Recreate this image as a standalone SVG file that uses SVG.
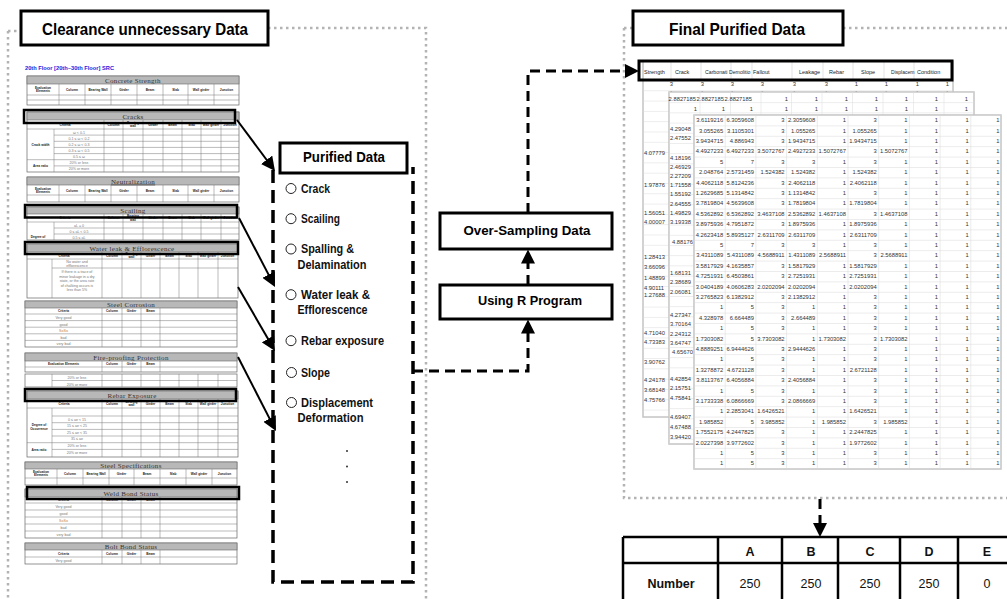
<svg xmlns="http://www.w3.org/2000/svg" width="1007" height="599" viewBox="0 0 1007 599">
<defs>
<style>
.dot{fill:none;stroke:#b3b3b3;stroke-width:2.5;stroke-dasharray:2.5 3.5}
.dash{fill:none;stroke:#000;stroke-width:3.5;stroke-dasharray:13 7}
.conn{fill:none;stroke:#000;stroke-width:3;stroke-dasharray:10 6}
.sol{fill:none;stroke:#000;stroke-width:2}
.box{fill:#fff;stroke:#000;stroke-width:3}
.t{font-family:"Liberation Sans",Arial,sans-serif;font-weight:bold;fill:#000}
.tm{text-anchor:middle}
.item{font-family:"Liberation Sans",Arial,sans-serif;font-weight:bold;font-size:12px;fill:#111}
.cir{fill:#fff;stroke:#222;stroke-width:1}
.blue{font-family:"Liberation Sans",Arial,sans-serif;font-weight:bold;font-size:6px;fill:#2020e0}
.tb{fill:#fff;stroke:#666;stroke-width:0.7}
.hd{fill:#b8b8b8;stroke:#666;stroke-width:0.6}
.ln{fill:none;stroke:#777;stroke-width:0.5}
.hl{fill:none;stroke:#000;stroke-width:2.5}
.ft{font-family:"Liberation Serif","Times New Roman",serif;font-size:7px;fill:#333;text-anchor:middle;letter-spacing:0.3px}
.fl{font-family:"Liberation Sans",Arial,sans-serif;font-size:3.2px;fill:#222;text-anchor:middle;font-weight:bold}
.fc{font-family:"Liberation Sans",Arial,sans-serif;font-size:3.6px;fill:#777;text-anchor:middle}
.so{fill:#c8803f}
.sheet{fill:#fff;stroke:#c4c4c4;stroke-width:1.5}
.sn{font-family:"Liberation Sans",Arial,sans-serif;font-size:5.8px;fill:#333;text-anchor:end}
.sl{font-family:"Liberation Sans",Arial,sans-serif;font-size:5.8px;fill:#333}
.sh{font-family:"Liberation Sans",Arial,sans-serif;font-size:5.5px;fill:#222}
.tl{fill:none;stroke:#000;stroke-width:2.5}
.tt{font-family:"Liberation Sans",Arial,sans-serif;font-size:12.5px;fill:#111;text-anchor:middle}
</style>
<marker id="ah" viewBox="0 0 14 14" refX="4" refY="7" markerWidth="14" markerHeight="14" markerUnits="userSpaceOnUse" orient="auto"><path d="M0,0L14,7L0,14z" fill="#000"/></marker>
<pattern id="gA" patternUnits="userSpaceOnUse" x="643" y="80" width="28" height="10.3"><path d="M0,0.3H28" stroke="#dadada" stroke-width="0.6"/></pattern>
<pattern id="gB" patternUnits="userSpaceOnUse" x="669" y="92" width="30.5" height="10.2"><path d="M0,0.3H30.5M0.3,0V10.2" stroke="#dadada" stroke-width="0.6"/></pattern>
<pattern id="gC" patternUnits="userSpaceOnUse" x="694" y="115" width="30.7" height="10.4"><path d="M0,0.3H30.7M0.3,0V10.4" stroke="#d6d6d6" stroke-width="0.6"/></pattern>
</defs>
<rect width="1007" height="599" fill="#fff"/>

<!-- frames -->
<g id="frames">
<path class="dot" d="M8,31H19M8,31V599M268,28H426V599"/>
<path class="dot" d="M624,28H632M843,28H1007M624,28V498H1007"/>
</g>

<!-- Left: clearance -->
<g id="clearance-title">
<rect class="box" x="21" y="11" width="247" height="34" stroke-width="3.5"/>
<text class="t tm" x="145" y="34.5" font-size="16.5" textLength="206" lengthAdjust="spacingAndGlyphs">Clearance unnecessary Data</text>
</g>

<g id="inspection-form">
<text class="blue" x="25" y="70" textLength="89" lengthAdjust="spacingAndGlyphs">20th Floor [20th~30th Floor] SRC</text>

<!-- Concrete Strength -->
<rect class="tb" x="27" y="76" width="212" height="29"/>
<rect class="hd" x="27" y="76" width="212" height="8"/>
<text class="ft" x="133" y="82.6">Concrete Strength</text>
<path class="ln" d="M27,95H239M27,100H239M59,84V105M85,84V105M111,84V105M137,84V105M163,84V105M188,84V105M214,84V105"/>
<text class="fl"><tspan x="43" y="88.8">Evaluation</tspan><tspan x="43" y="92.3">Elements</tspan><tspan x="72" y="90.6">Column</tspan><tspan x="98" y="90.6">Bearing Wall</tspan><tspan x="124" y="90.6">Girder</tspan><tspan x="150" y="90.6">Beam</tspan><tspan x="175.5" y="90.6">Slab</tspan><tspan x="201" y="90.6">Wall girder</tspan><tspan x="226.5" y="90.6">Junction</tspan></text>

<!-- Cracks -->
<rect class="tb" x="27" y="112" width="212" height="60"/>
<rect class="hd" x="27" y="112" width="212" height="8"/>
<text class="ft" x="133" y="118.6">Cracks</text>
<path class="ln" d="M27,129H239M54,135.1H239M54,141.3H239M54,147.4H239M54,153.6H239M27,159.7H239M54,165.9H239M54,129V172M104,120V172M123,120V172M143,120V172M163,120V172M182,120V172M201,120V172M221,120V172"/>
<text class="fl"><tspan x="65" y="125.6">Criteria</tspan><tspan x="113.5" y="125.6">Column</tspan><tspan x="133" y="123.8">Bearing</tspan><tspan x="133" y="127.4">wall</tspan><tspan x="153" y="125.6">Girder</tspan><tspan x="172.5" y="125.6">Beam</tspan><tspan x="191.5" y="125.6">Slab</tspan><tspan x="211" y="125.6">Wall girder</tspan><tspan x="230" y="125.6">Junction</tspan><tspan x="40.5" y="146">Crack width</tspan><tspan x="40.5" y="167">Area ratio</tspan></text>
<text class="fc"><tspan x="79" y="133.5">ω &lt; 0.1</tspan><tspan x="79" y="139.6">0.1 ≤ ω &lt; 0.2</tspan><tspan x="79" y="145.8">0.2 ≤ ω &lt; 0.3</tspan><tspan x="79" y="151.9">0.3 ≤ ω &lt; 0.5</tspan><tspan x="79" y="158">0.5 ≤ ω</tspan><tspan x="79" y="164.2">20% or less</tspan><tspan x="79" y="170.3">20% or more</tspan></text>

<!-- Neutralization -->
<rect class="tb" x="27" y="177" width="212" height="25"/>
<rect class="hd" x="27" y="177" width="212" height="8"/>
<text class="ft" x="133" y="183.6" text-decoration="underline">Neutralization</text>
<path class="ln" d="M27,195H239M59,185V202M85,185V202M111,185V202M137,185V202M163,185V202M188,185V202M214,185V202"/>
<text class="fl"><tspan x="43" y="189.8">Evaluation</tspan><tspan x="43" y="193.3">Elements</tspan><tspan x="72" y="191.6">Column</tspan><tspan x="98" y="191.6">Bearing Wall</tspan><tspan x="124" y="191.6">Girder</tspan><tspan x="150" y="191.6">Beam</tspan><tspan x="175.5" y="191.6">Slab</tspan><tspan x="201" y="191.6">Wall girder</tspan><tspan x="226.5" y="191.6">Junction</tspan></text>

<!-- Scailing -->
<rect class="tb" x="27" y="207" width="212" height="33"/>
<rect class="hd" x="27" y="207" width="212" height="7"/>
<text class="ft" x="133" y="213">Scailing</text>
<path class="ln" d="M27,222H239M54,228H239M54,234H239M54,222V240M104,214V240M123,214V240M143,214V240M163,214V240M182,214V240M201,214V240M221,214V240"/>
<text class="fl"><tspan x="65" y="219">Criteria</tspan><tspan x="113.5" y="219">Column</tspan><tspan x="133" y="217.2">Bearing</tspan><tspan x="133" y="220.8">wall</tspan><tspan x="153" y="219">Girder</tspan><tspan x="172.5" y="219">Beam</tspan><tspan x="191.5" y="219">Slab</tspan><tspan x="211" y="219">Wall girder</tspan><tspan x="230" y="219">Junction</tspan><tspan x="38" y="237.5">Degree of</tspan></text>
<text class="fc"><tspan x="79" y="226.5">aL = 0</tspan><tspan x="79" y="232.5">0 ≤ aL &lt; 0.5</tspan><tspan x="79" y="238.5">0.5 ≤ aL</tspan></text>

<!-- Water leak -->
<rect class="tb" x="27" y="244" width="211" height="54"/>
<rect class="hd" x="27" y="244" width="211" height="8"/>
<text class="ft" x="132" y="250.5">Water leak &amp; Efflorescence</text>
<path class="ln" d="M27,259H238M52,268H238M52,259V298M102,252V298M122,252V298M141,252V298M160,252V298M179,252V298M198,252V298M218,252V298"/>
<text class="fl"><tspan x="64" y="256.5">Criteria</tspan><tspan x="112" y="256.5">Column</tspan><tspan x="131.5" y="254.8">Bearing</tspan><tspan x="131.5" y="258.2">wall</tspan><tspan x="150.5" y="256.5">Girder</tspan><tspan x="169.5" y="256.5">Beam</tspan><tspan x="188.5" y="256.5">Slab</tspan><tspan x="208" y="256.5">Wall girder</tspan><tspan x="227.5" y="256.5">Junction</tspan></text>
<text class="fc"><tspan x="77" y="263.3">No water and</tspan><tspan x="77" y="267.3">efflorescence</tspan><tspan x="77" y="273">If there is a trace of</tspan><tspan x="77" y="277.5">minor leakage in a dry</tspan><tspan x="77" y="282">state, or the area rate</tspan><tspan x="77" y="286.5">of chalking occurs is</tspan><tspan x="77" y="291">less than 5%</tspan></text>

<!-- Steel Corrosion -->
<rect class="tb" x="25" y="301" width="212" height="46"/>
<rect class="hd" x="25" y="301" width="212" height="7"/>
<text class="ft" x="131" y="307">Steel Corrosion</text>
<path class="ln" d="M25,314H237M25,320.6H237M25,327.2H237M25,333.8H237M25,340.4H237M102,308V347M122,308V347M141,308V347M160,308V347"/>
<text class="fl"><tspan x="63.5" y="312.3">Criteria</tspan><tspan x="112" y="312.3">Column</tspan><tspan x="131.5" y="312.3">Girder</tspan><tspan x="150.5" y="312.3">Beam</tspan></text>
<text class="fc"><tspan x="63.5" y="319">Very good</tspan><tspan x="63.5" y="325.6">good</tspan><tspan x="63.5" y="332.2" class="so">SoSo</tspan><tspan x="63.5" y="338.8">bad</tspan><tspan x="63.5" y="345.4">very bad</tspan></text>

<!-- Fire-proofing -->
<rect class="tb" x="25" y="353" width="212" height="19"/>
<rect class="hd" x="25" y="353" width="212" height="8"/>
<text class="ft" x="131" y="359.5">Fire-proofing Protection</text>
<path class="ln" d="M25,367H237M102,361V372M122,361V372M141,361V372M160,361V372"/>
<text class="fl"><tspan x="63.5" y="365.2">Evaluation Elements</tspan><tspan x="112" y="365.2">Column</tspan><tspan x="131.5" y="365.2">Girder</tspan><tspan x="150.5" y="365.2">Beam</tspan><tspan x="38.5" y="382.2">Area ratio</tspan></text>
<rect class="tb" x="25" y="374" width="212" height="13"/>
<path class="ln" d="M52,380.5H237M52,374V387M102,374V387M122,374V387M141,374V387M160,374V387M179,374V387M198,374V387M218,374V387"/>
<text class="fc"><tspan x="77" y="379">20% or less</tspan><tspan x="77" y="385.5">20% or more</tspan></text>

<!-- Rebar Exposure -->
<rect class="tb" x="27" y="391" width="211" height="66"/>
<rect class="hd" x="27" y="391" width="211" height="8"/>
<text class="ft" x="132" y="397.5">Rebar Exposure</text>
<path class="ln" d="M27,408H238M52,416H238M52,422.7H238M52,429.4H238M52,436H238M27,442.7H238M52,449.4H238M52,408V457M102,399V457M122,399V457M141,399V457M160,399V457M179,399V457M198,399V457M218,399V457"/>
<text class="fl"><tspan x="64" y="404.5">Criteria</tspan><tspan x="112" y="404.5">Column</tspan><tspan x="131.5" y="402.8">Bearing</tspan><tspan x="131.5" y="406.2">wall</tspan><tspan x="150.5" y="404.5">Girder</tspan><tspan x="169.5" y="404.5">Beam</tspan><tspan x="188.5" y="404.5">Slab</tspan><tspan x="208" y="404.5">Wall girder</tspan><tspan x="227.5" y="404.5">Junction</tspan><tspan x="39" y="425.5">Degree of</tspan><tspan x="39" y="430">Occurrence</tspan><tspan x="39" y="451">Area ratio</tspan></text>
<text class="fc"><tspan x="77" y="420.5">0 ≤ ae &lt; 15</tspan><tspan x="77" y="427">15 ≤ ae &lt; 25</tspan><tspan x="77" y="433.5">25 ≤ ae &lt; 35</tspan><tspan x="77" y="440">35 ≤ ae</tspan><tspan x="77" y="447">20% or less</tspan><tspan x="77" y="453.5">20% or more</tspan></text>

<!-- Steel Specifications -->
<rect class="tb" x="25" y="462" width="212" height="23"/>
<rect class="hd" x="25" y="462" width="212" height="7"/>
<text class="ft" x="131" y="468">Steel Specifications</text>
<path class="ln" d="M25,478H237M57,469V485M83,469V485M109,469V485M134,469V485M160,469V485M186,469V485M212,469V485"/>
<text class="fl"><tspan x="41" y="472.8">Evaluation</tspan><tspan x="41" y="476.3">Elements</tspan><tspan x="70" y="474.6">Column</tspan><tspan x="96" y="474.6">Bearing Wall</tspan><tspan x="121.5" y="474.6">Girder</tspan><tspan x="147" y="474.6">Beam</tspan><tspan x="173" y="474.6">Slab</tspan><tspan x="199" y="474.6">Wall girder</tspan><tspan x="224.5" y="474.6">Junction</tspan></text>

<!-- Weld Bond -->
<rect class="tb" x="25" y="489" width="212" height="49"/>
<rect class="hd" x="25" y="489" width="212" height="8"/>
<text class="ft" x="131" y="495.5">Weld Bond Status</text>
<path class="ln" d="M25,503H237M25,510H237M25,517H237M25,524H237M25,531H237M102,497V538M122,497V538M141,497V538M160,497V538"/>
<text class="fl"><tspan x="63.5" y="501.3">Criteria</tspan><tspan x="112" y="501.3">Column</tspan><tspan x="131.5" y="501.3">Girder</tspan><tspan x="150.5" y="501.3">Beam</tspan></text>
<text class="fc"><tspan x="63.5" y="508">Very good</tspan><tspan x="63.5" y="515">good</tspan><tspan x="63.5" y="522" class="so">SoSo</tspan><tspan x="63.5" y="529">bad</tspan><tspan x="63.5" y="536">very bad</tspan></text>

<!-- Bolt Bond -->
<rect class="tb" x="25" y="543" width="212" height="21"/>
<rect class="hd" x="25" y="543" width="212" height="7"/>
<text class="ft" x="131" y="549">Bolt Bond Status</text>
<path class="ln" d="M25,557H237M102,550V564M122,550V564M141,550V564M160,550V564"/>
<text class="fl"><tspan x="63.5" y="554.7">Criteria</tspan><tspan x="112" y="554.7">Column</tspan><tspan x="131.5" y="554.7">Girder</tspan><tspan x="150.5" y="554.7">Beam</tspan></text>
<text class="fc"><tspan x="63.5" y="561.7">Very good</tspan></text>

<!-- highlights -->
<rect class="hl" x="24" y="110" width="211" height="13"/>
<rect class="hl" x="25" y="205" width="212" height="12.5"/>
<rect class="hl" x="25" y="242" width="213" height="12"/>
<rect class="hl" x="25" y="389" width="211" height="12"/>
<rect class="hl" x="27" y="487" width="212" height="12"/>
</g>

<!-- Purified data -->
<g id="purified-data">
<path class="dash" d="M273,170V582H413V167"/>
<rect class="box" x="280" y="143" width="127" height="30"/>
<text class="t tm" x="344" y="162" font-size="14" textLength="82" lengthAdjust="spacingAndGlyphs">Purified Data</text>
<circle class="cir" cx="291" cy="188.5" r="5"/>
<text class="item" x="301" y="192.7" textLength="29" lengthAdjust="spacingAndGlyphs">Crack</text>
<circle class="cir" cx="291" cy="218.7" r="5"/>
<text class="item" x="301" y="222.7" textLength="39" lengthAdjust="spacingAndGlyphs">Scailing</text>
<circle class="cir" cx="291" cy="249" r="5"/>
<text class="item" x="301" y="253.3" textLength="53" lengthAdjust="spacingAndGlyphs">Spalling &amp;</text>
<text class="item" x="297.5" y="268.7" textLength="69" lengthAdjust="spacingAndGlyphs">Delamination</text>
<circle class="cir" cx="291" cy="294.7" r="5"/>
<text class="item" x="301" y="299" textLength="69" lengthAdjust="spacingAndGlyphs">Water leak &amp;</text>
<text class="item" x="297.5" y="314.3" textLength="70" lengthAdjust="spacingAndGlyphs">Efflorescence</text>
<circle class="cir" cx="291" cy="340.7" r="5"/>
<text class="item" x="301" y="345" textLength="83" lengthAdjust="spacingAndGlyphs">Rebar exposure</text>
<circle class="cir" cx="291.5" cy="372.5" r="5"/>
<text class="item" x="301" y="376.5" textLength="29" lengthAdjust="spacingAndGlyphs">Slope</text>
<circle class="cir" cx="291.5" cy="402.5" r="5"/>
<text class="item" x="301" y="406.7" textLength="72" lengthAdjust="spacingAndGlyphs">Displacement</text>
<text class="item" x="297.5" y="421.7" textLength="66" lengthAdjust="spacingAndGlyphs">Deformation</text>
<circle cx="347" cy="451" r="1" fill="#333"/>
<circle cx="347" cy="466.5" r="1" fill="#333"/>
<circle cx="347" cy="482" r="1" fill="#333"/>
</g>

<g id="over-sampling">
<rect class="box" x="440" y="213" width="172" height="36"/>
<text class="t tm" x="527" y="234.5" font-size="12.5" textLength="127" lengthAdjust="spacingAndGlyphs">Over-Sampling Data</text>
</g>
<g id="using-r">
<rect class="box" x="440" y="285" width="172" height="34"/>
<text class="t tm" x="530" y="305" font-size="12.5" textLength="104" lengthAdjust="spacingAndGlyphs">Using R Program</text>
</g>

<!-- Final purified data -->
<g id="final-title">
<rect class="box" x="633" y="11" width="210" height="34" stroke-width="3.5"/>
<text class="t tm" x="737" y="34.5" font-size="16.5" textLength="136" lengthAdjust="spacingAndGlyphs">Final Purified Data</text>
</g>

<g id="spreadsheet">
<!-- sheet A -->
<rect class="sheet" x="643" y="61" width="310" height="356"/>
<rect x="643" y="80" width="310" height="337" fill="url(#gA)"/>
<text class="sn" y="86"><tspan x="673">3</tspan><tspan x="704">3</tspan><tspan x="734">3</tspan><tspan x="764">3</tspan><tspan x="796">3</tspan><tspan x="828">3</tspan><tspan x="858">1</tspan><tspan x="888">1</tspan><tspan x="919">1</tspan><tspan x="949">1</tspan></text>
<text class="sn" y="94.5"><tspan x="673">1</tspan><tspan x="704">1</tspan><tspan x="734">1</tspan><tspan x="764">1</tspan><tspan x="796">1</tspan><tspan x="828">1</tspan><tspan x="858">1</tspan><tspan x="888">1</tspan><tspan x="919">1</tspan><tspan x="949">1</tspan></text>
<text class="sl" x="644"><tspan x="644" y="155">4.07779</tspan><tspan x="644" y="187">1.97876</tspan><tspan x="644" y="215">1.56051</tspan><tspan x="644" y="224">4.00007</tspan><tspan x="644" y="259">1.28413</tspan><tspan x="644" y="269">3.66096</tspan><tspan x="644" y="280">1.48899</tspan><tspan x="644" y="289.7">4.90111</tspan><tspan x="644" y="297">1.27688</tspan><tspan x="644" y="335">4.71040</tspan><tspan x="644" y="344">4.73383</tspan><tspan x="644" y="364">3.90762</tspan><tspan x="644" y="382">4.24178</tspan><tspan x="644" y="392">3.68148</tspan><tspan x="644" y="402">4.75766</tspan></text>
<path d="M671,62V79M701,62V79M731,62V79M752,62V79M792,62V79M823,62V79M853,62V79M884,62V79M914,62V79" stroke="#d0d0d0" stroke-width="0.6"/>
<text class="sh" y="74"><tspan x="644">Strength</tspan><tspan x="675">Crack</tspan><tspan x="705" textLength="22.5" lengthAdjust="spacingAndGlyphs">Carbonati</tspan><tspan x="729" textLength="21.5" lengthAdjust="spacingAndGlyphs">Demolitio</tspan><tspan x="753">Fallout</tspan><tspan x="799">Leakage</tspan><tspan x="829">Rebar</tspan><tspan x="861">Slope</tspan><tspan x="891" textLength="23.5" lengthAdjust="spacingAndGlyphs">Displacem</tspan><tspan x="917">Condition</tspan></text>

<!-- sheet B -->
<rect class="sheet" x="669" y="92" width="305" height="352"/>
<rect x="669" y="92" width="305" height="352" fill="url(#gB)"/>
<text class="sn" y="101"><tspan x="696">2.8827185</tspan><tspan x="724">2.8827185</tspan><tspan x="752">2.8827185</tspan><tspan x="788">1</tspan><tspan x="818">1</tspan><tspan x="848">1</tspan><tspan x="878">1</tspan><tspan x="908">1</tspan><tspan x="938">1</tspan><tspan x="968">1</tspan></text>
<text class="sn" y="110.5"><tspan x="697">1</tspan><tspan x="725">1</tspan><tspan x="753">1</tspan><tspan x="788">1</tspan><tspan x="818">1</tspan><tspan x="848">1</tspan><tspan x="878">1</tspan><tspan x="908">1</tspan><tspan x="938">1</tspan><tspan x="968">1</tspan></text>
<text class="sl"><tspan x="670" y="131">4.29048</tspan><tspan x="670" y="140">2.47552</tspan><tspan x="670" y="160">4.18196</tspan><tspan x="670" y="169">2.46929</tspan><tspan x="670" y="178">2.27209</tspan><tspan x="670" y="187">1.71558</tspan><tspan x="670" y="196">1.55192</tspan><tspan x="670" y="206">2.64555</tspan><tspan x="670" y="215">1.49829</tspan><tspan x="670" y="224">3.19338</tspan><tspan x="672" y="244">4.88176</tspan><tspan x="670" y="275">1.68131</tspan><tspan x="670" y="284">2.38689</tspan><tspan x="670" y="294">2.06081</tspan><tspan x="670" y="317">4.27347</tspan><tspan x="670" y="326">3.70164</tspan><tspan x="670" y="336">2.24312</tspan><tspan x="670" y="345">3.64747</tspan><tspan x="672" y="354">4.65670</tspan><tspan x="670" y="381">4.42854</tspan><tspan x="670" y="390">2.15751</tspan><tspan x="670" y="400">4.75841</tspan><tspan x="670" y="419">4.69407</tspan><tspan x="670" y="429">4.67488</tspan><tspan x="670" y="439">3.94420</tspan></text>

<!-- sheet C -->
<rect class="sheet" x="694" y="115" width="307" height="354"/>
<rect x="694" y="115" width="307" height="354" fill="url(#gC)"/>
<text class="sn" y="122.2"><tspan x="723.2">3.6119216</tspan><tspan x="753.9">6.3059608</tspan><tspan x="784.6">3</tspan><tspan x="815.3">2.3059608</tspan><tspan x="846">1</tspan><tspan x="876.7">3</tspan><tspan x="907.4">1</tspan><tspan x="938.1">1</tspan><tspan x="968.8">1</tspan><tspan x="999.5">1</tspan></text>
<text class="sn" y="132.6"><tspan x="723.2">3.055265</tspan><tspan x="753.9">3.1105301</tspan><tspan x="784.6">3</tspan><tspan x="815.3">1.055265</tspan><tspan x="846">1</tspan><tspan x="876.7">1.055265</tspan><tspan x="907.4">1</tspan><tspan x="938.1">1</tspan><tspan x="968.8">1</tspan><tspan x="999.5">1</tspan></text>
<text class="sn" y="143"><tspan x="723.2">3.9434715</tspan><tspan x="753.9">4.886943</tspan><tspan x="784.6">3</tspan><tspan x="815.3">1.9434715</tspan><tspan x="846">1</tspan><tspan x="876.7">1.9434715</tspan><tspan x="907.4">1</tspan><tspan x="938.1">1</tspan><tspan x="968.8">1</tspan><tspan x="999.5">1</tspan></text>
<text class="sn" y="153.4"><tspan x="723.2">4.4927233</tspan><tspan x="753.9">6.4927233</tspan><tspan x="784.6">3.5072767</tspan><tspan x="815.3">2.4927233</tspan><tspan x="846">1.5072767</tspan><tspan x="876.7">3</tspan><tspan x="907.4">1.5072767</tspan><tspan x="938.1">1</tspan><tspan x="968.8">1</tspan><tspan x="999.5">1</tspan></text>
<text class="sn" y="163.8"><tspan x="723.2">5</tspan><tspan x="753.9">7</tspan><tspan x="784.6">3</tspan><tspan x="815.3">3</tspan><tspan x="846">1</tspan><tspan x="876.7">3</tspan><tspan x="907.4">1</tspan><tspan x="938.1">1</tspan><tspan x="968.8">1</tspan><tspan x="999.5">1</tspan></text>
<text class="sn" y="174.2"><tspan x="723.2">2.048764</tspan><tspan x="753.9">2.5731459</tspan><tspan x="784.6">1.524382</tspan><tspan x="815.3">1.524382</tspan><tspan x="846">1</tspan><tspan x="876.7">1.524382</tspan><tspan x="907.4">1</tspan><tspan x="938.1">1</tspan><tspan x="968.8">1</tspan><tspan x="999.5">1</tspan></text>
<text class="sn" y="184.6"><tspan x="723.2">4.4062118</tspan><tspan x="753.9">5.8124236</tspan><tspan x="784.6">3</tspan><tspan x="815.3">2.4062118</tspan><tspan x="846">1</tspan><tspan x="876.7">2.4062118</tspan><tspan x="907.4">1</tspan><tspan x="938.1">1</tspan><tspan x="968.8">1</tspan><tspan x="999.5">1</tspan></text>
<text class="sn" y="195"><tspan x="723.2">1.2629685</tspan><tspan x="753.9">5.1314842</tspan><tspan x="784.6">3</tspan><tspan x="815.3">1.1314842</tspan><tspan x="846">1</tspan><tspan x="876.7">3</tspan><tspan x="907.4">1</tspan><tspan x="938.1">1</tspan><tspan x="968.8">1</tspan><tspan x="999.5">1</tspan></text>
<text class="sn" y="205.4"><tspan x="723.2">3.7819804</tspan><tspan x="753.9">4.5639608</tspan><tspan x="784.6">3</tspan><tspan x="815.3">1.7819804</tspan><tspan x="846">1</tspan><tspan x="876.7">1.7819804</tspan><tspan x="907.4">1</tspan><tspan x="938.1">1</tspan><tspan x="968.8">1</tspan><tspan x="999.5">1</tspan></text>
<text class="sn" y="215.8"><tspan x="723.2">4.5362892</tspan><tspan x="753.9">6.5362892</tspan><tspan x="784.6">3.4637108</tspan><tspan x="815.3">2.5362892</tspan><tspan x="846">1.4637108</tspan><tspan x="876.7">3</tspan><tspan x="907.4">1.4637108</tspan><tspan x="938.1">1</tspan><tspan x="968.8">1</tspan><tspan x="999.5">1</tspan></text>
<text class="sn" y="226.2"><tspan x="723.2">3.8975936</tspan><tspan x="753.9">4.7951872</tspan><tspan x="784.6">3</tspan><tspan x="815.3">1.8975936</tspan><tspan x="846">1</tspan><tspan x="876.7">1.8975936</tspan><tspan x="907.4">1</tspan><tspan x="938.1">1</tspan><tspan x="968.8">1</tspan><tspan x="999.5">1</tspan></text>
<text class="sn" y="236.6"><tspan x="723.2">4.2623418</tspan><tspan x="753.9">5.8935127</tspan><tspan x="784.6">2.6311709</tspan><tspan x="815.3">2.6311709</tspan><tspan x="846">1</tspan><tspan x="876.7">2.6311709</tspan><tspan x="907.4">1</tspan><tspan x="938.1">1</tspan><tspan x="968.8">1</tspan><tspan x="999.5">1</tspan></text>
<text class="sn" y="247"><tspan x="723.2">5</tspan><tspan x="753.9">7</tspan><tspan x="784.6">3</tspan><tspan x="815.3">3</tspan><tspan x="846">1</tspan><tspan x="876.7">3</tspan><tspan x="907.4">1</tspan><tspan x="938.1">1</tspan><tspan x="968.8">1</tspan><tspan x="999.5">1</tspan></text>
<text class="sn" y="257.4"><tspan x="723.2">3.4311089</tspan><tspan x="753.9">5.4311089</tspan><tspan x="784.6">4.5688911</tspan><tspan x="815.3">1.4311089</tspan><tspan x="846">2.5688911</tspan><tspan x="876.7">3</tspan><tspan x="907.4">2.5688911</tspan><tspan x="938.1">1</tspan><tspan x="968.8">1</tspan><tspan x="999.5">1</tspan></text>
<text class="sn" y="267.8"><tspan x="723.2">3.5817929</tspan><tspan x="753.9">4.1635857</tspan><tspan x="784.6">3</tspan><tspan x="815.3">1.5817929</tspan><tspan x="846">1</tspan><tspan x="876.7">1.5817929</tspan><tspan x="907.4">1</tspan><tspan x="938.1">1</tspan><tspan x="968.8">1</tspan><tspan x="999.5">1</tspan></text>
<text class="sn" y="278.2"><tspan x="723.2">4.7251931</tspan><tspan x="753.9">6.4503861</tspan><tspan x="784.6">3</tspan><tspan x="815.3">2.7251931</tspan><tspan x="846">1</tspan><tspan x="876.7">2.7251931</tspan><tspan x="907.4">1</tspan><tspan x="938.1">1</tspan><tspan x="968.8">1</tspan><tspan x="999.5">1</tspan></text>
<text class="sn" y="288.6"><tspan x="723.2">3.0404189</tspan><tspan x="753.9">4.0606283</tspan><tspan x="784.6">2.0202094</tspan><tspan x="815.3">2.0202094</tspan><tspan x="846">1</tspan><tspan x="876.7">2.0202094</tspan><tspan x="907.4">1</tspan><tspan x="938.1">1</tspan><tspan x="968.8">1</tspan><tspan x="999.5">1</tspan></text>
<text class="sn" y="299"><tspan x="723.2">3.2765823</tspan><tspan x="753.9">6.1382912</tspan><tspan x="784.6">3</tspan><tspan x="815.3">2.1382912</tspan><tspan x="846">1</tspan><tspan x="876.7">3</tspan><tspan x="907.4">1</tspan><tspan x="938.1">1</tspan><tspan x="968.8">1</tspan><tspan x="999.5">1</tspan></text>
<text class="sn" y="309.4"><tspan x="723.2">1</tspan><tspan x="753.9">5</tspan><tspan x="784.6">3</tspan><tspan x="815.3">1</tspan><tspan x="846">1</tspan><tspan x="876.7">3</tspan><tspan x="907.4">1</tspan><tspan x="938.1">1</tspan><tspan x="968.8">1</tspan><tspan x="999.5">1</tspan></text>
<text class="sn" y="319.8"><tspan x="723.2">4.328978</tspan><tspan x="753.9">6.664489</tspan><tspan x="784.6">3</tspan><tspan x="815.3">2.664489</tspan><tspan x="846">1</tspan><tspan x="876.7">3</tspan><tspan x="907.4">1</tspan><tspan x="938.1">1</tspan><tspan x="968.8">1</tspan><tspan x="999.5">1</tspan></text>
<text class="sn" y="330.2"><tspan x="723.2">1</tspan><tspan x="753.9">5</tspan><tspan x="784.6">3</tspan><tspan x="815.3">1</tspan><tspan x="846">1</tspan><tspan x="876.7">3</tspan><tspan x="907.4">1</tspan><tspan x="938.1">1</tspan><tspan x="968.8">1</tspan><tspan x="999.5">1</tspan></text>
<text class="sn" y="340.6"><tspan x="723.2">1.7303082</tspan><tspan x="753.9">5</tspan><tspan x="784.6">3.7303082</tspan><tspan x="815.3">1</tspan><tspan x="846">1.7303082</tspan><tspan x="876.7">3</tspan><tspan x="907.4">1.7303082</tspan><tspan x="938.1">1</tspan><tspan x="968.8">1</tspan><tspan x="999.5">1</tspan></text>
<text class="sn" y="351"><tspan x="723.2">4.8889251</tspan><tspan x="753.9">6.9444626</tspan><tspan x="784.6">3</tspan><tspan x="815.3">2.9444626</tspan><tspan x="846">1</tspan><tspan x="876.7">3</tspan><tspan x="907.4">1</tspan><tspan x="938.1">1</tspan><tspan x="968.8">1</tspan><tspan x="999.5">1</tspan></text>
<text class="sn" y="361.4"><tspan x="723.2">1</tspan><tspan x="753.9">5</tspan><tspan x="784.6">3</tspan><tspan x="815.3">1</tspan><tspan x="846">1</tspan><tspan x="876.7">3</tspan><tspan x="907.4">1</tspan><tspan x="938.1">1</tspan><tspan x="968.8">1</tspan><tspan x="999.5">1</tspan></text>
<text class="sn" y="371.8"><tspan x="723.2">1.3278872</tspan><tspan x="753.9">4.6721128</tspan><tspan x="784.6">3</tspan><tspan x="815.3">1</tspan><tspan x="846">1</tspan><tspan x="876.7">2.6721128</tspan><tspan x="907.4">1</tspan><tspan x="938.1">1</tspan><tspan x="968.8">1</tspan><tspan x="999.5">1</tspan></text>
<text class="sn" y="382.2"><tspan x="723.2">3.8113767</tspan><tspan x="753.9">6.4056884</tspan><tspan x="784.6">3</tspan><tspan x="815.3">2.4056884</tspan><tspan x="846">1</tspan><tspan x="876.7">3</tspan><tspan x="907.4">1</tspan><tspan x="938.1">1</tspan><tspan x="968.8">1</tspan><tspan x="999.5">1</tspan></text>
<text class="sn" y="392.6"><tspan x="723.2">1</tspan><tspan x="753.9">5</tspan><tspan x="784.6">3</tspan><tspan x="815.3">1</tspan><tspan x="846">1</tspan><tspan x="876.7">3</tspan><tspan x="907.4">1</tspan><tspan x="938.1">1</tspan><tspan x="968.8">1</tspan><tspan x="999.5">1</tspan></text>
<text class="sn" y="403"><tspan x="723.2">3.1733338</tspan><tspan x="753.9">6.0866669</tspan><tspan x="784.6">3</tspan><tspan x="815.3">2.0866669</tspan><tspan x="846">1</tspan><tspan x="876.7">3</tspan><tspan x="907.4">1</tspan><tspan x="938.1">1</tspan><tspan x="968.8">1</tspan><tspan x="999.5">1</tspan></text>
<text class="sn" y="413.4"><tspan x="723.2">1</tspan><tspan x="753.9">2.2853041</tspan><tspan x="784.6">1.6426521</tspan><tspan x="815.3">1</tspan><tspan x="846">1</tspan><tspan x="876.7">1.6426521</tspan><tspan x="907.4">1</tspan><tspan x="938.1">1</tspan><tspan x="968.8">1</tspan><tspan x="999.5">1</tspan></text>
<text class="sn" y="423.8"><tspan x="723.2">1.985852</tspan><tspan x="753.9">5</tspan><tspan x="784.6">3.985852</tspan><tspan x="815.3">1</tspan><tspan x="846">1.985852</tspan><tspan x="876.7">3</tspan><tspan x="907.4">1.985852</tspan><tspan x="938.1">1</tspan><tspan x="968.8">1</tspan><tspan x="999.5">1</tspan></text>
<text class="sn" y="434.2"><tspan x="723.2">1.7552175</tspan><tspan x="753.9">4.2447825</tspan><tspan x="784.6">3</tspan><tspan x="815.3">1</tspan><tspan x="846">1</tspan><tspan x="876.7">2.2447825</tspan><tspan x="907.4">1</tspan><tspan x="938.1">1</tspan><tspan x="968.8">1</tspan><tspan x="999.5">1</tspan></text>
<text class="sn" y="444.6"><tspan x="723.2">2.0227398</tspan><tspan x="753.9">3.9772602</tspan><tspan x="784.6">3</tspan><tspan x="815.3">1</tspan><tspan x="846">1</tspan><tspan x="876.7">1.9772602</tspan><tspan x="907.4">1</tspan><tspan x="938.1">1</tspan><tspan x="968.8">1</tspan><tspan x="999.5">1</tspan></text>
<text class="sn" y="455"><tspan x="723.2">1</tspan><tspan x="753.9">5</tspan><tspan x="784.6">3</tspan><tspan x="815.3">1</tspan><tspan x="846">1</tspan><tspan x="876.7">3</tspan><tspan x="907.4">1</tspan><tspan x="938.1">1</tspan><tspan x="968.8">1</tspan><tspan x="999.5">1</tspan></text>
<text class="sn" y="465.4"><tspan x="723.2">1</tspan><tspan x="753.9">5</tspan><tspan x="784.6">3</tspan><tspan x="815.3">1</tspan><tspan x="846">1</tspan><tspan x="876.7">3</tspan><tspan x="907.4">1</tspan><tspan x="938.1">1</tspan><tspan x="968.8">1</tspan><tspan x="999.5">1</tspan></text>

<rect x="639" y="61" width="313" height="19" fill="none" stroke="#000" stroke-width="3"/>
</g>

<!-- result table -->
<g id="result-table">
<path class="tl" d="M623,537H1010M623,563H1010M623,537V600M718,537V600M782,537V600M838,537V600M900,537V600M958,537V600"/>
<text class="tt" font-weight="bold" y="556"><tspan x="750">A</tspan><tspan x="811">B</tspan><tspan x="870">C</tspan><tspan x="929">D</tspan><tspan x="987">E</tspan></text>
<text class="tt" font-weight="bold" x="671" y="588" font-size="13">Number</text>
<text class="tt" y="588"><tspan x="750">250</tspan><tspan x="811">250</tspan><tspan x="870">250</tspan><tspan x="929">250</tspan><tspan x="987">0</tspan></text>
</g>

<!-- connectors -->
<g id="connectors">
<path class="sol" d="M237,120L269,163" marker-end="url(#ah)"/>
<path class="sol" d="M239,218L270.4,278.1" marker-end="url(#ah)"/>
<path class="sol" d="M238,287L270,342.3" marker-end="url(#ah)"/>
<path class="sol" d="M238,357L271.4,422.1" marker-end="url(#ah)"/>
<path class="conn" d="M413,371H528V329.5" marker-end="url(#ah)"/>
<path class="conn" d="M528,285V259.5" marker-end="url(#ah)"/>
<path class="conn" d="M528,213V71H629" marker-end="url(#ah)"/>
<path class="conn" d="M820,499V527" marker-end="url(#ah)"/>
</g>
</svg>
